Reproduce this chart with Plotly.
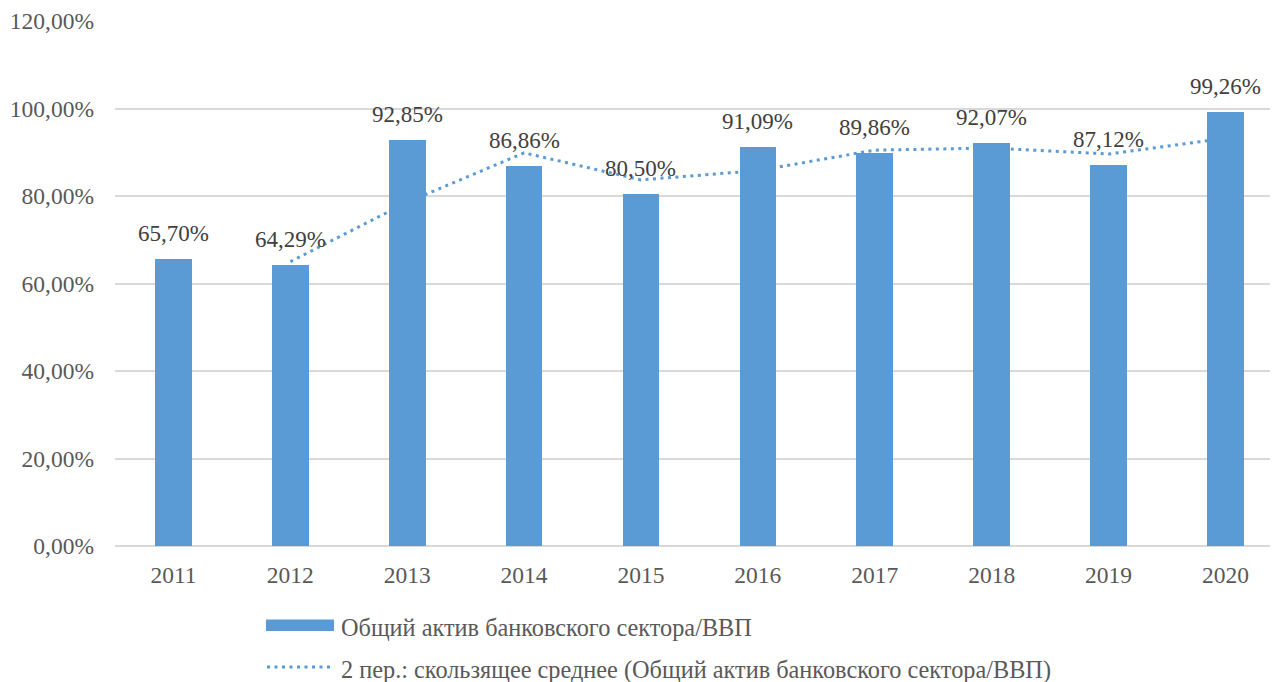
import plotly.graph_objects as go

years = ["2011", "2012", "2013", "2014", "2015", "2016", "2017", "2018", "2019", "2020"]
ratio = [65.70, 64.29, 92.85, 86.86, 80.50, 91.09, 89.86, 92.07, 87.12, 99.26]
ma_years = ["2012", "2013", "2014", "2015", "2016", "2017", "2018", "2019", "2020"]
ma_vals = [65.00, 78.57, 89.86, 83.68, 85.80, 90.48, 90.97, 89.60, 93.19]
y_ticks = [0, 20, 40, 60, 80, 100, 120]
y_tick_text = ["0,00%", "20,00%", "40,00%", "60,00%", "80,00%", "100,00%", "120,00%"]

bar_name = "Общий актив банковского сектора/ВВП"
ma_name = "2 пер.: скользящее среднее (Общий актив банковского сектора/ВВП)"

BLUE = "#5B9BD5"
FONT = "Liberation Serif"
DOTS = "3px,4.5px"

xi = list(range(len(years)))
ma_x = [years.index(y) for y in ma_years]

# page body has an 8px margin: figure is 1270x674 placed at (8, 8)
PL, PT, PW, PH = 107, 13, 1163, 525.5
def px(x):  # page x -> paper
    return (x - 8 - PL) / PW
def py(y):  # page y -> paper
    return (PT + PH - (y - 8)) / PH

fig = go.Figure()
fig.add_trace(go.Bar(x=xi, y=ratio, name=bar_name, marker=dict(color=BLUE, line=dict(width=0)),
                     width=0.314, showlegend=False, hoverinfo="y"))
fig.add_trace(go.Scatter(x=ma_x, y=ma_vals, name=ma_name, mode="lines",
                         line=dict(color=BLUE, width=3, dash=DOTS), showlegend=False))

for i, v in enumerate(ratio):
    fig.add_annotation(x=i, y=v, text=f"{v:.2f}%".replace(".", ","), showarrow=False,
                       yanchor="bottom", yshift=11,
                       font=dict(family=FONT, size=23, color="#404040"))

# manual legend (wide swatches as in the reference)
fig.add_shape(type="rect", xref="paper", yref="paper", x0=px(266), x1=px(334),
              y0=py(631.5), y1=py(620), fillcolor=BLUE, line=dict(width=0))
fig.add_shape(type="line", xref="paper", yref="paper", x0=px(267), x1=px(334),
              y0=py(667.5), y1=py(667.5), line=dict(color=BLUE, width=3, dash=DOTS))
fig.add_annotation(xref="paper", yref="paper", x=px(339), y=py(628),
                   xanchor="left", yanchor="middle", showarrow=False, text=bar_name,
                   font=dict(family=FONT, size=24.3, color="#595959"))
fig.add_annotation(xref="paper", yref="paper", x=px(339), y=py(671),
                   xanchor="left", yanchor="middle", showarrow=False, text=ma_name,
                   font=dict(family=FONT, size=24.3, color="#595959"))

fig.update_layout(
    width=1270, height=674,
    margin=dict(l=PL, r=0, t=PT, b=674 - PT - PH),
    paper_bgcolor="white", plot_bgcolor="white",
    font=dict(family=FONT, size=23, color="#595959"),
    bargap=0,
    showlegend=False,
)
fig.update_xaxes(range=[-0.5, 9.45], tickvals=xi, ticktext=years, showgrid=False, zeroline=False,
                 showline=False, ticks="", ticklabelstandoff=12,
                 tickfont=dict(family=FONT, size=23.5, color="#595959"))
fig.update_yaxes(range=[0, 120], tickvals=y_ticks, ticktext=y_tick_text, showgrid=True,
                 gridcolor="#D9D9D9", gridwidth=2, zeroline=True, zerolinecolor="#D9D9D9", zerolinewidth=2,
                 showline=False, ticks="", ticklabelstandoff=20,
                 tickfont=dict(family=FONT, size=23.5, color="#595959"))

fig.write_html("out.html")
